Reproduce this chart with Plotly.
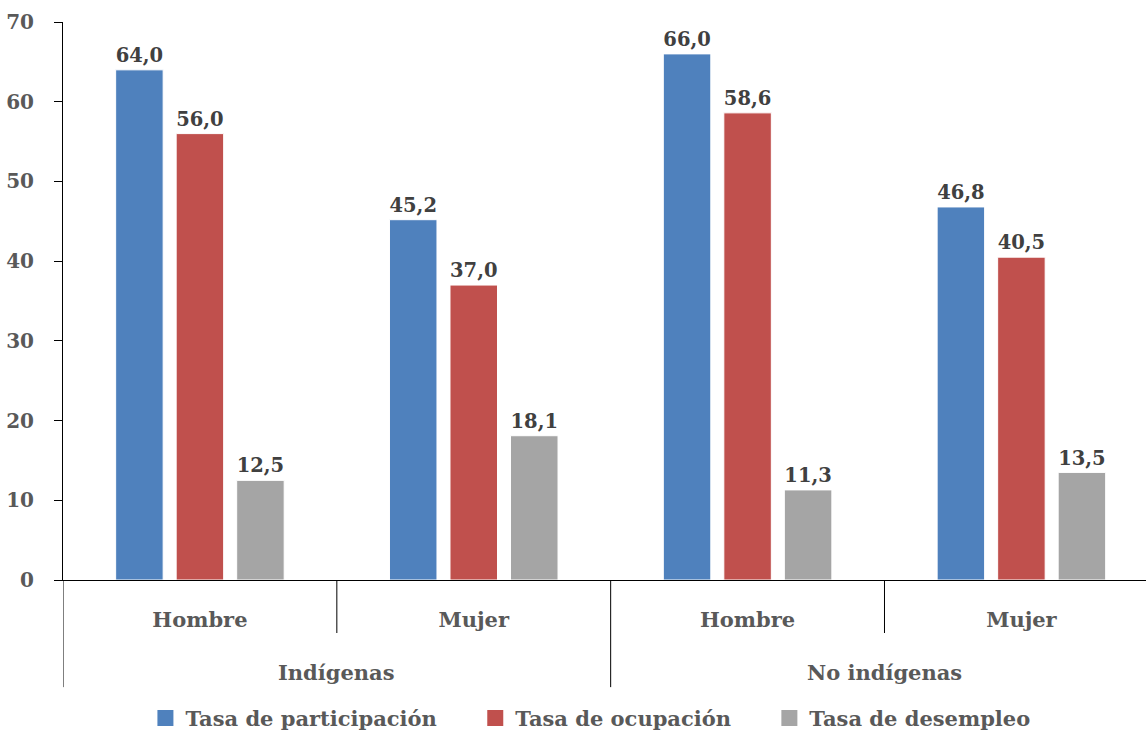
import plotly.graph_objects as go

# Categories: population group (outer level) and sex (inner level)
grupos = ["Indígenas", "No indígenas"]
sexo = ["Hombre", "Mujer", "Hombre", "Mujer"]
claves = ["ind_h", "ind_m", "noind_h", "noind_m"]

participacion = [64.0, 45.2, 66.0, 46.8]
ocupacion = [56.0, 37.0, 58.6, 40.5]
desempleo = [12.5, 18.1, 11.3, 13.5]

series = [
    ("Tasa de participación", participacion, "#4F81BD"),
    ("Tasa de ocupación", ocupacion, "#C0504D"),
    ("Tasa de desempleo", desempleo, "#A5A5A5"),
]

FONT = "DejaVu Serif"
AXIS_GRAY = "#595959"
LABEL_GRAY = "#404040"

fig = go.Figure()
for nombre, valores, color in series:
    fig.add_trace(go.Bar(
        name=nombre,
        x=claves,
        y=valores,
        showlegend=False,
        marker=dict(color=color, line=dict(color="white", width=1)),
        texttemplate="<b>%{y:.1f}</b>",
        textposition="outside",
        cliponaxis=False,
        textfont=dict(family=FONT, size=20, color=LABEL_GRAY),
    ))

# Legend entries with square swatches (trailing spaces widen the gap between items)
for k, (nombre, valores, color) in enumerate(series):
    relleno = "&nbsp;" * 5 if k < len(series) - 1 else ""
    fig.add_trace(go.Scatter(
        name=f"<b>{nombre}</b>{relleno}",
        x=[None],
        y=[None],
        mode="markers",
        marker=dict(symbol="square", size=17, color=color),
        showlegend=True,
    ))

# Divider lines of the two-level category axis
shapes = []
for xb, largo in [(-0.5, -0.192), (0.5, -0.095), (1.5, -0.192), (2.5, -0.095)]:
    shapes.append(dict(
        type="line", xref="x", yref="paper",
        x0=xb, x1=xb, y0=0, y1=largo,
        line=dict(color="black", width=1),
    ))

# Outer category labels
annotations = []
for i, g in enumerate(grupos):
    annotations.append(dict(
        text=f"<b>{g}</b>", xref="x", yref="paper",
        x=2 * i + 0.5, y=-0.165, yanchor="middle", xanchor="center",
        showarrow=False,
        font=dict(family=FONT, size=21, color=AXIS_GRAY),
    ))

fig.update_layout(
    width=1146,
    height=730,
    margin=dict(l=63, r=0, t=22, b=150, autoexpand=False),
    paper_bgcolor="white",
    plot_bgcolor="white",
    separators=",.",
    barmode="group",
    bargap=0.337,
    bargroupgap=0.215,
    font=dict(family=FONT, size=20, color=AXIS_GRAY),
    shapes=shapes,
    annotations=annotations,
    legend=dict(
        orientation="h",
        x=0.487,
        xanchor="center",
        y=-0.248,
        yanchor="middle",
        font=dict(family=FONT, size=21, color=AXIS_GRAY),
        itemwidth=30,
        traceorder="normal",
    ),
)

fig.update_yaxes(
    range=[0, 70],
    dtick=10,
    showgrid=False,
    showline=True,
    linecolor="black",
    linewidth=1,
    ticks="outside",
    ticklen=8,
    tickcolor="black",
    ticklabelstandoff=16,
    tickfont=dict(family=FONT, size=20, color=AXIS_GRAY),
    tickprefix="<b>",
    ticksuffix="</b>",
    zeroline=False,
    automargin=False,
)

fig.update_xaxes(
    type="category",
    categoryorder="array",
    categoryarray=claves,
    tickvals=claves,
    ticktext=[f"<b>{s}</b>" for s in sexo],
    range=[-0.5, 3.455],
    showline=True,
    linecolor="black",
    linewidth=1,
    showgrid=False,
    ticks="",
    ticklabelstandoff=21,
    tickfont=dict(family=FONT, size=21, color=AXIS_GRAY),
    automargin=False,
)

fig.write_html("out.html")
